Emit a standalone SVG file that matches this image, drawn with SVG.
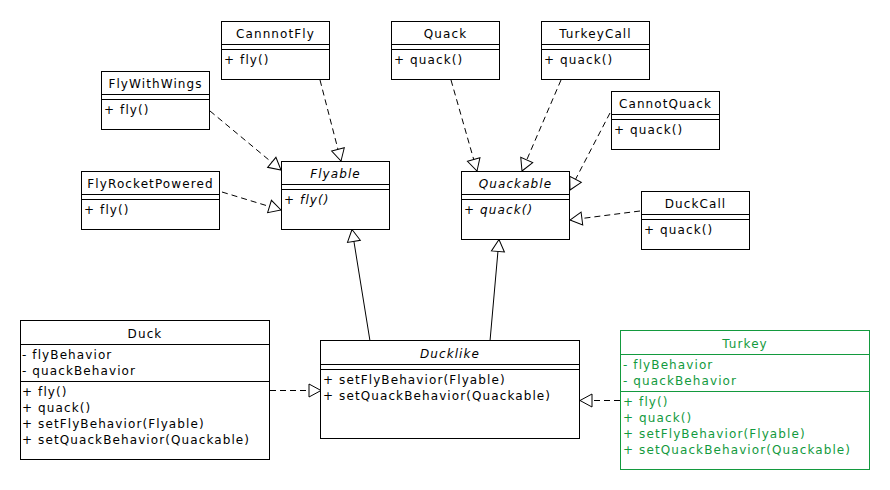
<svg xmlns="http://www.w3.org/2000/svg" width="890" height="490" viewBox="0 0 890 490">
<style>
  .box { fill: #ffffff; stroke: #000000; stroke-width: 1; }
  .sep { stroke: #000000; stroke-width: 1; fill: none; }
  .green .box, .green .sep { stroke: #139a3e; }
  text { font-family: "DejaVu Sans", "Liberation Sans", sans-serif; font-size: 12px; letter-spacing: 1.1px; fill: #000000; }
  .green text { fill: #139a3e; }
  .title { text-anchor: middle; }
  .it { font-style: italic; }
  .dash { stroke: #000000; stroke-width: 1; fill: none; stroke-dasharray: 6,4; marker-end: url(#tri); }
  .solid { stroke: #000000; stroke-width: 1; fill: none; marker-end: url(#tri); }
</style>
<defs>
  <marker id="tri" viewBox="-13 -8 15 16" refX="0" refY="0" markerWidth="15" markerHeight="16" markerUnits="userSpaceOnUse" orient="auto">
    <path d="M0,0 L-12,-6.5 L-12,6.5 Z" fill="#ffffff" stroke="#000000" stroke-width="1"/>
  </marker>
</defs>
<rect x="0" y="0" width="890" height="490" fill="#ffffff"/>

<g id="connectors">
  <line class="dash" x1="210" y1="111" x2="281" y2="170"/>
  <line class="dash" x1="320" y1="80" x2="341" y2="161"/>
  <line class="dash" x1="222" y1="192" x2="281" y2="210"/>
  <line class="dash" x1="451" y1="80" x2="477" y2="171"/>
  <line class="dash" x1="561" y1="80" x2="522" y2="171"/>
  <line class="dash" x1="610" y1="113" x2="570" y2="190"/>
  <line class="dash" x1="640" y1="211" x2="570" y2="220"/>
  <line class="solid" x1="370" y1="341" x2="352" y2="229.5"/>
  <line class="solid" x1="490" y1="341" x2="499" y2="239.5"/>
  <line class="dash" x1="270" y1="390.5" x2="321" y2="390.5"/>
  <line class="dash" x1="620" y1="400.5" x2="580" y2="400.5"/>
</g>

<g id="CannnotFly">
  <rect class="box" x="221.5" y="21.5" width="108" height="58"/>
  <path class="sep" d="M221.5,44.5 H329.5 M221.5,49.5 H329.5"/>
  <text class="title" x="275.5" y="38">CannnotFly</text>
  <text x="224" y="64">+ fly()</text>
</g>

<g id="FlyWithWings">
  <rect class="box" x="101.5" y="71.5" width="108" height="58"/>
  <path class="sep" d="M101.5,94.5 H209.5 M101.5,99.5 H209.5"/>
  <text class="title" x="155.5" y="88">FlyWithWings</text>
  <text x="104" y="114">+ fly()</text>
</g>

<g id="FlyRocketPowered">
  <rect class="box" x="81.5" y="171.5" width="138" height="58"/>
  <path class="sep" d="M81.5,194.5 H219.5 M81.5,199.5 H219.5"/>
  <text class="title" x="150.5" y="188">FlyRocketPowered</text>
  <text x="84" y="214">+ fly()</text>
</g>

<g id="Flyable">
  <rect class="box" x="281.5" y="161.5" width="108" height="68"/>
  <path class="sep" d="M281.5,184.5 H389.5 M281.5,189.5 H389.5"/>
  <text class="title it" x="335.5" y="178">Flyable</text>
  <text x="284" y="204">+ <tspan class="it">fly()</tspan></text>
</g>

<g id="Quack">
  <rect class="box" x="391.5" y="21.5" width="108" height="58"/>
  <path class="sep" d="M391.5,44.5 H499.5 M391.5,49.5 H499.5"/>
  <text class="title" x="445.5" y="38">Quack</text>
  <text x="394" y="64">+ quack()</text>
</g>

<g id="TurkeyCall">
  <rect class="box" x="541.5" y="21.5" width="108" height="58"/>
  <path class="sep" d="M541.5,44.5 H649.5 M541.5,49.5 H649.5"/>
  <text class="title" x="595.5" y="38">TurkeyCall</text>
  <text x="544" y="64">+ quack()</text>
</g>

<g id="CannotQuack">
  <rect class="box" x="611.5" y="91.5" width="108" height="58"/>
  <path class="sep" d="M611.5,114.5 H719.5 M611.5,119.5 H719.5"/>
  <text class="title" x="665.5" y="108">CannotQuack</text>
  <text x="614" y="134">+ quack()</text>
</g>

<g id="Quackable">
  <rect class="box" x="461.5" y="171.5" width="108" height="68"/>
  <path class="sep" d="M461.5,194.5 H569.5 M461.5,199.5 H569.5"/>
  <text class="title it" x="515.5" y="188">Quackable</text>
  <text x="464" y="214">+ <tspan class="it">quack()</tspan></text>
</g>

<g id="DuckCall">
  <rect class="box" x="641.5" y="191.5" width="108" height="58"/>
  <path class="sep" d="M641.5,214.5 H749.5 M641.5,219.5 H749.5"/>
  <text class="title" x="695.5" y="208">DuckCall</text>
  <text x="644" y="234">+ quack()</text>
</g>

<g id="Duck">
  <rect class="box" x="20.5" y="320.5" width="249" height="139"/>
  <path class="sep" d="M20.5,344.5 H269.5 M20.5,381.5 H269.5"/>
  <text class="title" x="145" y="338">Duck</text>
  <text x="22" y="359">- flyBehavior</text>
  <text x="22" y="375">- quackBehavior</text>
  <text x="22" y="396">+ fly()</text>
  <text x="22" y="412">+ quack()</text>
  <text x="22" y="428">+ setFlyBehavior(Flyable)</text>
  <text x="22" y="444">+ setQuackBehavior(Quackable)</text>
</g>

<g id="Ducklike">
  <rect class="box" x="320.5" y="340.5" width="259" height="98"/>
  <path class="sep" d="M320.5,364.5 H579.5 M320.5,369.5 H579.5"/>
  <text class="title it" x="450" y="358">Ducklike</text>
  <text x="323" y="384">+ setFlyBehavior(Flyable)</text>
  <text x="323" y="400">+ setQuackBehavior(Quackable)</text>
</g>

<g id="Turkey" class="green">
  <rect class="box" x="620.5" y="330.5" width="249" height="139"/>
  <path class="sep" d="M620.5,354.5 H869.5 M620.5,391.5 H869.5"/>
  <text class="title" x="745" y="348">Turkey</text>
  <text x="623" y="369">- flyBehavior</text>
  <text x="623" y="385">- quackBehavior</text>
  <text x="623" y="406">+ fly()</text>
  <text x="623" y="422">+ quack()</text>
  <text x="623" y="438">+ setFlyBehavior(Flyable)</text>
  <text x="623" y="454">+ setQuackBehavior(Quackable)</text>
</g>
</svg>
